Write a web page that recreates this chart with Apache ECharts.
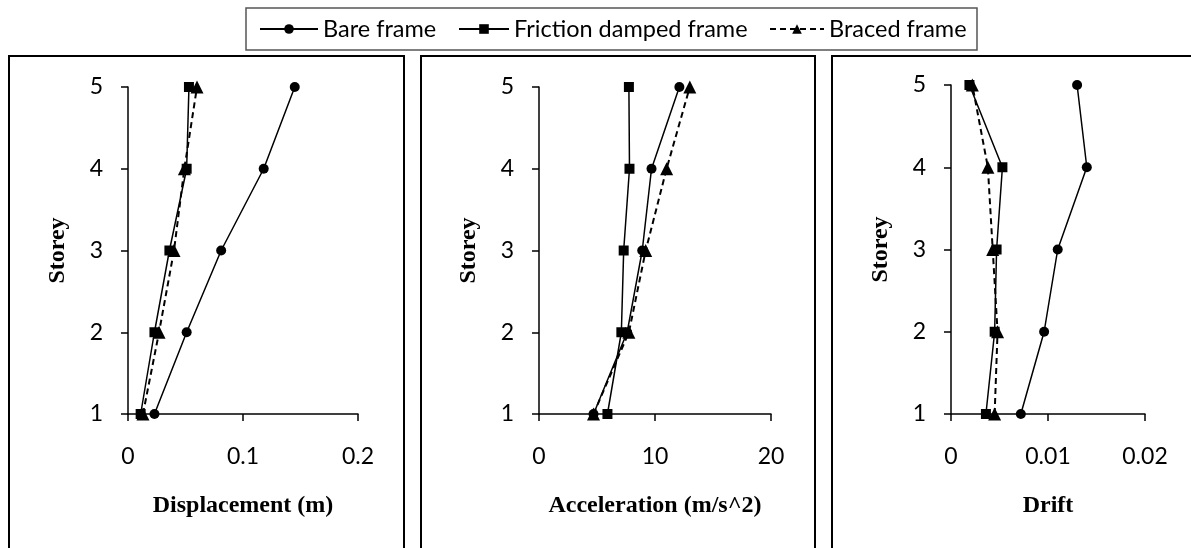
<!DOCTYPE html>
<html>
<head>
<meta charset="utf-8">
<script src="https://cdn.jsdelivr.net/npm/echarts@6/dist/echarts.min.js"></script>
<style>
html,body{margin:0;padding:0;background:#fff;}
#chart{width:1191px;height:548px;}
</style>
</head>
<body>
<div id="chart"></div>
<script>
// ---- data ----
const storeys = [1, 2, 3, 4, 5];
const seriesNames = ['Bare frame', 'Friction damped frame', 'Braced frame'];

const dispBare     = [0.023, 0.051, 0.081, 0.118, 0.145];
const dispFriction = [0.011, 0.023, 0.036, 0.051, 0.053];
const dispBraced   = [0.013, 0.027, 0.040, 0.049, 0.060];

const accBare      = [4.7, 7.6, 8.9, 9.7, 12.1];
const accFriction  = [5.9, 7.1, 7.3, 7.8, 7.75];
const accBraced    = [4.7, 7.75, 9.2, 11.0, 13.0];

const driftBare     = [0.0072, 0.0096, 0.0110, 0.0140, 0.0130];
const driftFriction = [0.0036, 0.0045, 0.0047, 0.0053, 0.0019];
const driftBraced   = [0.0045, 0.0048, 0.0043, 0.0038, 0.0022];

const xTitles = ['Displacement (m)', 'Acceleration (m/s^2)', 'Drift'];
const yTitle = 'Storey';
const xRanges = [[0, 0.2, 0.1], [0, 20, 10], [0, 0.02, 0.01]];

// ---- chart ----
const chart = echarts.init(document.getElementById('chart'));
const pairs = (xs) => xs.map((v, i) => [v, storeys[i]]);

const grids = [
  {left: 128, top: 87, width: 230, height: 327},
  {left: 539, top: 87, width: 232, height: 327},
  {left: 951, top: 85, width: 194, height: 329}
];

const tickFont = {fontFamily: 'Lato', fontSize: 23, color: '#000'};
const titleFont = {fontFamily: 'Liberation Serif', fontSize: 24, fontWeight: 'bold', color: '#000'};
const axisLine = {lineStyle: {color: '#000', width: 1.5}};

const xAxes = xRanges.map((r, i) => ({
  type: 'value', gridIndex: i, min: r[0], max: r[1], interval: r[2],
  name: xTitles[i], nameLocation: 'middle', nameGap: 80, nameTextStyle: titleFont,
  axisLine: Object.assign({show: true}, axisLine),
  axisTick: {show: true, length: 7, lineStyle: {color: '#000', width: 1.5}},
  axisLabel: Object.assign({margin: 31}, tickFont),
  splitLine: {show: false}
}));
const yAxes = grids.map((g, i) => ({
  type: 'value', gridIndex: i, min: 1, max: 5, interval: 1,
  name: yTitle, nameLocation: 'middle', nameGap: 58, nameTextStyle: titleFont,
  axisLine: Object.assign({show: true, onZero: false}, axisLine),
  axisTick: {show: true, length: 7, lineStyle: {color: '#000', width: 1.5}},
  axisLabel: Object.assign({margin: 25}, tickFont),
  splitLine: {show: false}
}));

const sets = [
  [dispBare, dispFriction, dispBraced],
  [accBare, accFriction, accBraced],
  [driftBare, driftFriction, driftBraced]
];
const styles = [
  {symbol: 'circle', symbolSize: 10, lineStyle: {color: '#000', width: 1.5, type: 'solid'}},
  {symbol: 'rect', symbolSize: 10, lineStyle: {color: '#000', width: 1.5, type: 'solid'}},
  {symbol: 'triangle', symbolSize: 13, lineStyle: {color: '#000', width: 2, type: [6, 4]}}
];
const series = [];
sets.forEach((set, gi) => {
  set.forEach((vals, si) => {
    series.push(Object.assign({
      type: 'line', name: seriesNames[si], xAxisIndex: gi, yAxisIndex: gi,
      data: pairs(vals), itemStyle: {color: '#000'}, animation: false, z: 2 + si
    }, styles[si]));
  });
});

const legendBase = {
  top: 17, itemHeight: 12, orient: 'horizontal', padding: 0,
  textStyle: {fontFamily: 'Lato', fontSize: 23.5, color: '#000'}
};
const legends = [
  Object.assign({}, legendBase, {left: 259, itemWidth: 58, data: [seriesNames[0]]}),
  Object.assign({}, legendBase, {left: 458, itemWidth: 50, data: [seriesNames[1]]}),
  Object.assign({}, legendBase, {left: 769, itemWidth: 54, data: [seriesNames[2]]})
];

const border = {stroke: '#000', lineWidth: 2, fill: 'none'};
chart.setOption({
  backgroundColor: '#fff',
  animation: false,
  grid: grids,
  xAxis: xAxes,
  yAxis: yAxes,
  legend: legends,
  series: series,
  graphic: [
    {type: 'rect', shape: {x: 246, y: 8, width: 731, height: 42}, style: {stroke: '#555', lineWidth: 1.5, fill: 'none'}, silent: true},
    {type: 'rect', shape: {x: 9, y: 56, width: 395, height: 520}, style: border, silent: true},
    {type: 'rect', shape: {x: 421, y: 56, width: 394, height: 520}, style: border, silent: true},
    {type: 'rect', shape: {x: 832, y: 56, width: 400, height: 520}, style: border, silent: true}
  ]
});
</script>
</body>
</html>
